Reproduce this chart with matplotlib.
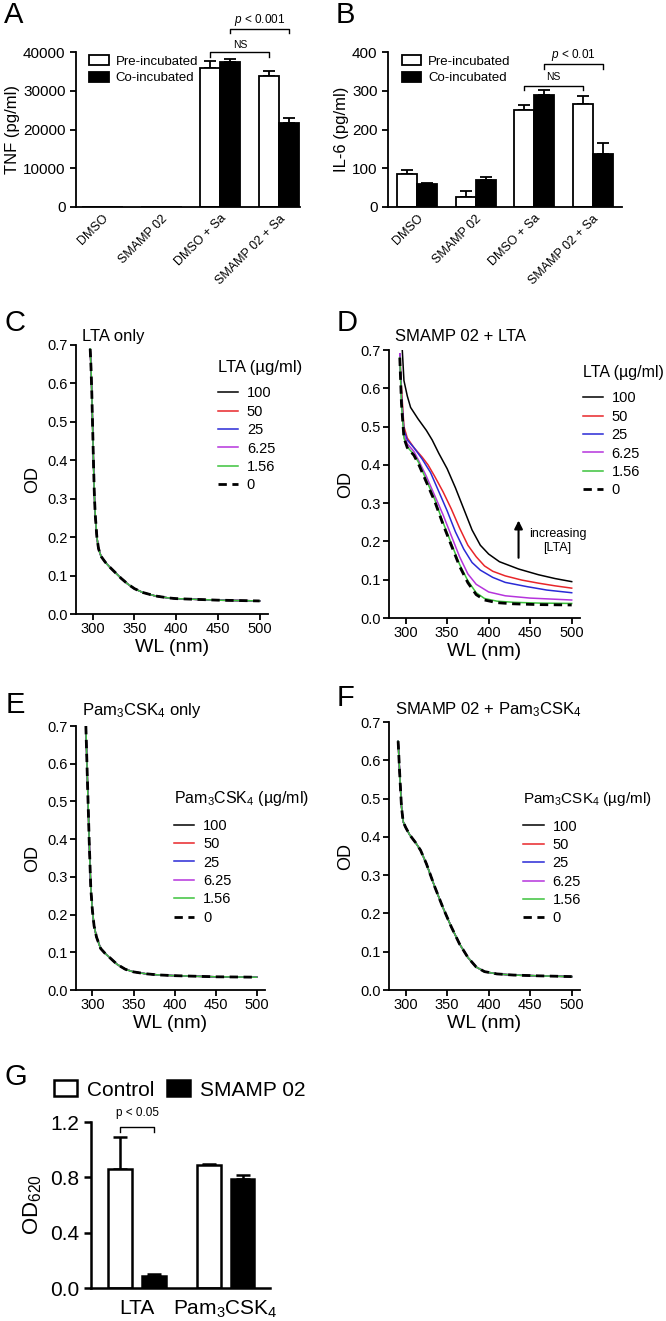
import numpy as np
import matplotlib.pyplot as plt
from matplotlib.patches import Patch
from matplotlib.lines import Line2D

plt.rcParams['font.family'] = ['Liberation Sans', 'DejaVu Sans']
plt.rcParams['mathtext.fontset'] = 'custom'
plt.rcParams['mathtext.rm'] = 'Liberation Sans'
plt.rcParams['mathtext.it'] = 'Liberation Sans:italic'
plt.rcParams['axes.linewidth'] = 1.3
plt.rcParams['xtick.major.width'] = 1.3
plt.rcParams['ytick.major.width'] = 1.3
plt.rcParams['xtick.major.size'] = 4
plt.rcParams['ytick.major.size'] = 4

# Panels A and B: cytokine release
groups = ['DMSO', 'SMAMP 02', 'DMSO + Sa', 'SMAMP 02 + Sa']
tnf_pre = [0, 0, 36000, 33800]
tnf_pre_err = [0, 0, 1600, 1200]
tnf_co = [0, 0, 37300, 21600]
tnf_co_err = [0, 0, 800, 1400]
il6_pre = [84, 27, 251, 265]
il6_pre_err = [12, 15, 12, 21]
il6_co = [60, 70, 289, 138]
il6_co_err = [2, 7, 12, 27]

# Panels C-F: absorbance spectra
conc = ['100', '50', '25', '6.25', '1.56', '0']
line_colors = ['black', '#e8262a', '#2a2ad6', '#b534dc', '#3cc23c', 'black']

c_wl = [297, 298, 299, 300, 301, 302, 303, 305, 307, 310, 315, 320, 327, 334, 342, 350, 360, 375, 390, 400, 450, 500]
c_od = [0.69, 0.64, 0.57, 0.48, 0.39, 0.31, 0.26, 0.20, 0.17, 0.15, 0.135, 0.123, 0.108, 0.093, 0.078, 0.066, 0.056, 0.047, 0.042, 0.040, 0.036, 0.034]

d_wl_100 = [296, 298, 302, 306, 315, 325, 332, 340, 350, 360, 370, 380, 390, 400, 413, 436, 460, 480, 500]
d_od_100 = [0.70, 0.62, 0.58, 0.55, 0.52, 0.49, 0.465, 0.43, 0.39, 0.34, 0.285, 0.23, 0.19, 0.167, 0.147, 0.128, 0.113, 0.103, 0.095]
d_wl_50 = [293, 295, 298, 302, 310, 320, 327, 335, 345, 355, 365, 375, 385, 395, 405, 420, 440, 460, 480, 500]
d_od_50 = [0.69, 0.60, 0.50, 0.47, 0.445, 0.42, 0.40, 0.37, 0.33, 0.285, 0.235, 0.19, 0.16, 0.136, 0.122, 0.11, 0.099, 0.091, 0.084, 0.078]
d_wl_25 = [293, 295, 298, 302, 310, 320, 330, 340, 350, 360, 370, 380, 390, 405, 420, 446, 470, 500]
d_od_25 = [0.69, 0.58, 0.49, 0.465, 0.445, 0.415, 0.38, 0.33, 0.28, 0.225, 0.18, 0.145, 0.125, 0.106, 0.093, 0.082, 0.073, 0.066]
d_wl_6 = [293, 295, 298, 302, 310, 316, 325, 335, 345, 355, 365, 375, 385, 400, 420, 450, 500]
d_od_6 = [0.69, 0.57, 0.48, 0.455, 0.435, 0.41, 0.37, 0.32, 0.27, 0.215, 0.16, 0.115, 0.088, 0.068, 0.058, 0.052, 0.047]
d_wl_1 = [293, 295, 298, 302, 310, 316, 325, 335, 345, 355, 365, 375, 385, 395, 410, 430, 460, 500]
d_od_1 = [0.68, 0.56, 0.47, 0.447, 0.427, 0.405, 0.36, 0.31, 0.25, 0.195, 0.14, 0.097, 0.066, 0.051, 0.044, 0.041, 0.039, 0.038]
d_wl_0 = [293, 295, 298, 302, 310, 316, 325, 335, 345, 355, 365, 375, 385, 395, 410, 430, 460, 500]
d_od_0 = [0.68, 0.56, 0.47, 0.445, 0.425, 0.40, 0.355, 0.305, 0.245, 0.19, 0.135, 0.092, 0.061, 0.047, 0.040, 0.037, 0.035, 0.034]

e_wl = [292, 294, 296, 298, 300, 302, 305, 310, 315, 320, 330, 340, 350, 365, 380, 400, 450, 500]
e_od = [0.70, 0.55, 0.40, 0.27, 0.21, 0.17, 0.14, 0.11, 0.098, 0.088, 0.068, 0.055, 0.048, 0.043, 0.040, 0.038, 0.035, 0.034]

f_wl = [291, 293, 295, 297, 300, 305, 312, 318, 325, 335, 345, 355, 365, 375, 385, 395, 410, 430, 460, 500]
f_od = [0.65, 0.56, 0.48, 0.44, 0.425, 0.405, 0.385, 0.365, 0.33, 0.27, 0.215, 0.165, 0.12, 0.085, 0.06, 0.048, 0.042, 0.039, 0.037, 0.035]

# Panel G: OD620
g_groups = ['LTA', r'Pam$_{\mathrm{3}}$CSK$_{\mathrm{4}}$']
g_control = [0.86, 0.89]
g_control_err = [0.23, 0.005]
g_smamp = [0.09, 0.79]
g_smamp_err = [0.01, 0.03]

fig = plt.figure(figsize=(6.66, 13.21), dpi=100)
W, H = 666, 1321


def add_ax(x0, x1, y0, y1):
    a = fig.add_axes([x0 / W, 1 - y1 / H, (x1 - x0) / W, (y1 - y0) / H])
    a.spines['top'].set_visible(False)
    a.spines['right'].set_visible(False)
    return a


def bars(ax, pre, pre_err, co, co_err, w=0.34):
    x = np.arange(len(pre))
    ax.bar(x - w / 2, pre, w, color='white', edgecolor='black', linewidth=1.3, zorder=2)
    ax.bar(x + w / 2, co, w, color='black', edgecolor='black', linewidth=1.3, zorder=2)
    for xs, v, e in [(x - w / 2, pre, pre_err), (x + w / 2, co, co_err)]:
        for xi, vi, ei in zip(xs, v, e):
            if ei > 0:
                ax.errorbar(xi, vi, yerr=[[0], [ei]], color='black', capsize=4, elinewidth=1.3, capthick=1.3, zorder=1)
    ax.set_xticks(x)
    ax.set_xticklabels(groups, rotation=45, ha='right', rotation_mode='anchor', fontsize=9)
    ax.tick_params(axis='x', length=0, pad=4)
    ax.tick_params(axis='y', labelsize=11)
    ax.legend(handles=[Patch(facecolor='white', edgecolor='black', linewidth=1.3, label='Pre-incubated'),
                       Patch(facecolor='black', edgecolor='black', linewidth=1.3, label='Co-incubated')],
              loc='upper left', bbox_to_anchor=(0.03, 1.02), frameon=False, fontsize=9.5,
              handlelength=1.5, handleheight=0.75, handletextpad=0.5, labelspacing=0.3, borderpad=0)


def bracket(ax, x1, x2, y, drop, text, ty, fs):
    ax.plot([x1, x1, x2, x2], [y - drop, y, y, y - drop], color='black', lw=1, clip_on=False)
    ax.text((x1 + x2) / 2, ty, text, ha='center', va='center', fontsize=fs)


# A
axA = add_ax(76, 300, 52, 207)
bars(axA, tnf_pre, tnf_pre_err, tnf_co, tnf_co_err)
axA.set_xlim(-0.45, 3.35)
axA.set_ylim(0, 40000)
axA.set_yticks([0, 10000, 20000, 30000, 40000])
axA.set_ylabel('TNF (pg/ml)', fontsize=12, labelpad=2)
bracket(axA, 1.83, 2.83, 40000, 1300, 'NS', 41900, 7.5)
bracket(axA, 2.17, 3.17, 45900, 1000, r'$p$ < 0.001', 48300, 8.5)

# B
axB = add_ax(388, 622, 52, 207)
bars(axB, il6_pre, il6_pre_err, il6_co, il6_co_err)
axB.set_xlim(-0.5, 3.5)
axB.set_ylim(0, 400)
axB.set_yticks([0, 100, 200, 300, 400])
axB.set_ylabel('IL-6 (pg/ml)', fontsize=12, labelpad=2)
bracket(axB, 1.83, 2.83, 311, 10, 'NS', 336, 7.5)
bracket(axB, 2.17, 3.17, 370, 13, r'$p$ < 0.01', 393, 8.5)


def spectrum(ax, curves, title, ty, leg_title, lx, ly, tfs=12):
    for (wl, od), col, lab in zip(curves, line_colors, conc):
        if lab == '0':
            ax.plot(wl, od, color=col, lw=2, ls=(0, (3, 2)), label=lab, zorder=3)
        else:
            ax.plot(wl, od, color=col, lw=1.1, label=lab, zorder=2)
    ax.set_xlim(280, 510)
    ax.set_ylim(0, 0.7)
    ax.set_xticks([300, 350, 400, 450, 500])
    ax.set_yticks(np.arange(0, 0.71, 0.1))
    ax.set_yticklabels(['%.1f' % v for v in np.arange(0, 0.71, 0.1)])
    ax.tick_params(labelsize=10.5, pad=2)
    ax.set_xlabel('WL (nm)', fontsize=14, labelpad=2)
    ax.set_ylabel('OD', fontsize=13, labelpad=4)
    ax.text(0.03, ty, title, transform=ax.transAxes, fontsize=12, ha='left', va='center')
    handles = [Line2D([], [], color=c, lw=2 if l == '0' else 1.1, ls=(0, (3, 2)) if l == '0' else '-')
               for c, l in zip(line_colors, conc)]
    leg = ax.legend(handles, conc, title=leg_title, loc='upper left', bbox_to_anchor=(lx, ly),
                    frameon=False, fontsize=10.5, title_fontsize=tfs, handlelength=1.4,
                    handletextpad=0.6, labelspacing=0.3, borderpad=0)
    leg._legend_box.align = 'left'
    leg._legend_box.sep = 8


pam = r'Pam$_{\mathrm{3}}$CSK$_{\mathrm{4}}$'

axC = add_ax(76, 268, 345, 614)
spectrum(axC, [(c_wl, c_od)] * 6, 'LTA only', 1.03, 'LTA (µg/ml)', 0.70, 0.97)

axD = add_ax(389, 580, 350, 618)
d_curves = [(d_wl_100, d_od_100), (d_wl_50, d_od_50), (d_wl_25, d_od_25),
            (d_wl_6, d_od_6), (d_wl_1, d_od_1), (d_wl_0, d_od_0)]
spectrum(axD, d_curves, 'SMAMP 02 + LTA', 1.05, 'LTA (µg/ml)', 0.975, 0.97, tfs=11.5)
axD.annotate('', xy=(436, 0.262), xytext=(436, 0.15),
             arrowprops=dict(arrowstyle='-|>', color='black', lw=1.5, mutation_scale=12))
axD.text(483, 0.219, 'increasing', ha='center', va='center', fontsize=9)
axD.text(483, 0.183, '[LTA]', ha='center', va='center', fontsize=9)

axE = add_ax(76, 265, 726, 990)
spectrum(axE, [(e_wl, e_od)] * 6, pam + ' only', 1.06, pam + ' (µg/ml)', 0.48, 0.79, tfs=11.5)

axF = add_ax(389, 580, 722, 990)
spectrum(axF, [(f_wl, f_od)] * 6, 'SMAMP 02 + ' + pam, 1.045, pam + ' (µg/ml)', 0.665, 0.772, tfs=11)

# G
axG = add_ax(91, 270, 1122, 1288)
for s in ['left', 'bottom']:
    axG.spines[s].set_linewidth(1.8)
gx = np.arange(len(g_groups))
gw = 0.27
axG.bar(gx - 0.19, g_control, gw, color='white', edgecolor='black', linewidth=1.8, zorder=2)
axG.bar(gx + 0.19, g_smamp, gw, color='black', edgecolor='black', linewidth=1.8, zorder=2)
axG.errorbar(gx - 0.19, g_control, yerr=[np.zeros(2), g_control_err], fmt='none', ecolor='black',
             capsize=5, elinewidth=1.8, capthick=1.8, zorder=1)
axG.errorbar(gx + 0.19, g_smamp, yerr=[np.zeros(2), g_smamp_err], fmt='none', ecolor='black',
             capsize=5, elinewidth=1.8, capthick=1.8, zorder=1)
axG.set_xlim(-0.52, 1.5)
axG.set_ylim(0, 1.2)
axG.set_yticks([0, 0.4, 0.8, 1.2])
axG.set_yticklabels(['0.0', '0.4', '0.8', '1.2'])
axG.set_xticks(gx)
axG.set_xticklabels(g_groups)
axG.tick_params(axis='x', length=0, labelsize=15, pad=8)
axG.tick_params(axis='y', labelsize=15, width=1.8, length=5)
axG.set_ylabel(r'OD$_{\mathrm{620}}$', fontsize=16, labelpad=4)
bracket(axG, -0.19, 0.19, 1.164, 0.036, 'p < 0.05', 1.265, 8.5)
fig.legend(handles=[Patch(facecolor='white', edgecolor='black', linewidth=1.8, label='Control'),
                    Patch(facecolor='black', edgecolor='black', linewidth=1.8, label='SMAMP 02')],
           loc='center left', bbox_to_anchor=(0.065, 1 - 1090 / H), ncol=2, frameon=False, fontsize=15,
           handlelength=1.1, handleheight=0.8, handletextpad=0.5, columnspacing=0.6, borderpad=0)

# panel letters
for lab, x, y in [('A', 4, 15), ('B', 336, 15), ('C', 5, 323), ('D', 337, 323),
                  ('E', 6, 705), ('F', 337, 698), ('G', 4, 1077)]:
    fig.text(x / W, 1 - y / H, lab, fontsize=21, ha='left', va='center')

fig.savefig('out.png', dpi=100)
